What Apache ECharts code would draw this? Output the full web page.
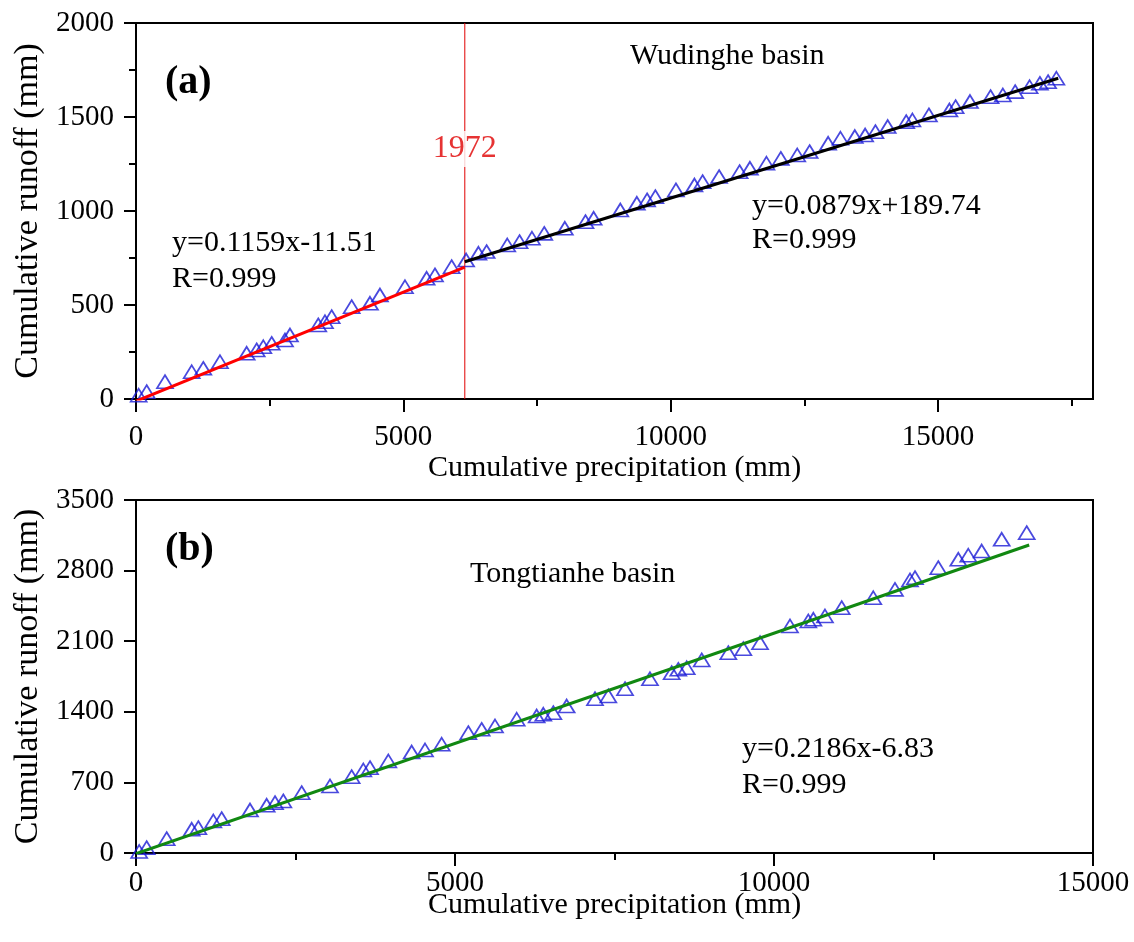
<!DOCTYPE html>
<html>
<head>
<meta charset="utf-8">
<script src="https://cdn.jsdelivr.net/npm/echarts@6/dist/echarts.min.js"></script>
<style>html,body{margin:0;padding:0;background:#fff;}#c{width:1134px;height:942px;}</style>
</head>
<body>
<div id="c"></div>
<script>
// ---------- Data ----------
const wudingheX = [50,200,542,1042,1259,1571,2070,2257,2381,2538,2787,2880,3409,3535,3660,4034,4376,4563,5031,5436,5592,5904,
  6175,6405,6558,6944,7174,7406,7636,8021,8407,8560,9059,9368,9560,9714,10099,10445,10598,10907,11290,11483,
  11792,12061,12368,12600,12946,13176,13445,13638,13830,14060,14406,14522,14831,15214,15330,15599,15984,16214,16444,16714,16907,17060,17215];
const wudingheY = [20,39,92,145,163,198,243,261,278,296,314,340,394,411,438,491,509,553,597,642,660,704,
  739,775,784,819,837,855,881,908,943,961,1005,1041,1059,1076,1112,1138,1156,1183,1209,1227,
  1254,1280,1298,1316,1360,1387,1396,1404,1422,1449,1475,1484,1511,1537,1555,1582,1608,1617,1635,1661,1679,1688,1706];
const tongX = [50,167,481,873,977,1212,1343,1787,2048,2179,2309,2597,3041,3380,3563,3668,3955,4321,4530,4791,5209,5418,5627,5967,6280,6384,6541,6750,7194,
  7403,7665,8056,8396,8500,8632,8867,9284,9519,9781,10251,10538,10617,10799,11061,11556,11896,12132,12210,12575,12889,13045,13255,13569,13961];
const tongY = [15,53,142,235,251,317,340,426,473,499,516,598,664,757,823,846,912,1001,1021,1078,1193,1226,1259,1326,1358,1375,1391,1457,1530,
  1557,1629,1728,1788,1821,1837,1914,1986,2026,2085,2251,2300,2317,2350,2432,2531,2614,2707,2730,2829,2912,2952,2994,3110,3176];

const breakYear = '1972';
const breakX = 6150;
const breakLabelY = 1330;
const fitA1 = [0.1159, -11.51];      // slope, intercept (before 1972)
const fitA2 = [0.0879, 189.74];      // after 1972
const fitB  = [0.2186, -6.83];
const fitA1Range = [0, 6150];
const fitA2Range = [6150, 17250];
const fitBRange = [0, 14000];

const topXMax = 17900, topYMax = 2000, botXMax = 15000, botYMax = 3500;
const topXMajor = [0, 5000, 10000, 15000];
const topXMinor = [2500, 7500, 12500, 17500];

const eqA1 = ['y=0.1159x-11.51', 'R=0.999'];
const eqA2 = ['y=0.0879x+189.74', 'R=0.999'];
const eqB  = ['y=0.2186x-6.83', 'R=0.999'];
const xName = 'Cumulative precipitation (mm)';
const yName = 'Cumulative runoff (mm)';

// ---------- Build ----------
const FONT = 'Liberation Serif';
const zip = (a, b) => a.map((v, i) => [v, b[i]]);
const fitLine = (f, r) => r.map(x => [x, f[0] * x + f[1]]);
const blue = '#1c1cd6';
const plain = v => String(v);

const chart = echarts.init(document.getElementById('c'), null, {renderer: 'canvas'});

const labelStyle = {color: '#000', fontFamily: FONT, fontSize: 29, formatter: plain};
const nameStyle = {color: '#000', fontFamily: FONT, fontSize: 30};
const yNameStyle = {color: '#000', fontFamily: FONT, fontSize: 34};
const axLine = {show: true, lineStyle: {color: '#000', width: 2}};

function yAxis(gridIndex, max, interval, minor) {
  return {
    type: 'value', gridIndex, min: 0, max, interval,
    name: yName, nameLocation: 'middle', nameGap: 88, nameTextStyle: yNameStyle,
    axisLine: axLine,
    axisTick: {show: true, inside: false, length: 12, lineStyle: {color: '#000', width: 2}},
    minorTick: {show: minor, splitNumber: 2, length: 7, lineStyle: {color: '#000', width: 2}},
    axisLabel: Object.assign({margin: 22}, labelStyle),
    splitLine: {show: false}, minorSplitLine: {show: false}
  };
}

const triStyle = {
  type: 'scatter', symbol: 'triangle', symbolSize: [16, 13],
  itemStyle: {color: 'rgba(0,0,0,0)', borderColor: blue, borderWidth: 1.7},
  z: 3, silent: true
};

const option = {
  backgroundColor: '#fff',
  animation: false,
  grid: [
    {left: 136, top: 23, width: 957, height: 376, show: true, borderColor: '#000', borderWidth: 2, backgroundColor: 'transparent'},
    {left: 136, top: 500, width: 957, height: 353, show: true, borderColor: '#000', borderWidth: 2, backgroundColor: 'transparent'}
  ],
  xAxis: [
    {
      type: 'value', gridIndex: 0, min: 0, max: topXMax,
      name: xName, nameLocation: 'middle', nameGap: 50, nameTextStyle: nameStyle,
      axisLine: axLine,
      axisTick: {show: true, inside: false, length: 13, customValues: topXMajor, lineStyle: {color: '#000', width: 2}},
      axisLabel: Object.assign({margin: 24, customValues: topXMajor}, labelStyle),
      splitLine: {show: false}
    },
    {
      type: 'value', gridIndex: 0, min: 0, max: topXMax, position: 'bottom',
      axisLine: {show: false},
      axisTick: {show: true, inside: false, length: 7, customValues: topXMinor, lineStyle: {color: '#000', width: 2}},
      axisLabel: {show: false},
      splitLine: {show: false}
    },
    {
      type: 'value', gridIndex: 1, min: 0, max: botXMax, interval: 5000,
      name: xName, nameLocation: 'middle', nameGap: 37, nameMoveOverlap: false, nameTextStyle: nameStyle,
      axisLine: axLine,
      axisTick: {show: true, inside: false, length: 13, lineStyle: {color: '#000', width: 2}},
      minorTick: {show: true, splitNumber: 2, length: 7, lineStyle: {color: '#000', width: 2}},
      axisLabel: Object.assign({margin: 16}, labelStyle),
      splitLine: {show: false}, minorSplitLine: {show: false}
    }
  ],
  yAxis: [yAxis(0, topYMax, 500, true), yAxis(1, botYMax, 700, false)],
  series: [
    Object.assign({xAxisIndex: 0, yAxisIndex: 0, data: zip(wudingheX, wudingheY)}, triStyle),
    {type: 'line', xAxisIndex: 0, yAxisIndex: 0, data: fitLine(fitA1, fitA1Range), showSymbol: false,
     lineStyle: {color: '#ff0000', width: 3}, z: 4, silent: true},
    {type: 'line', xAxisIndex: 0, yAxisIndex: 0, data: fitLine(fitA2, fitA2Range), showSymbol: false,
     lineStyle: {color: '#000', width: 3}, z: 4, silent: true},
    {type: 'line', xAxisIndex: 0, yAxisIndex: 0, data: [[breakX, 0], [breakX, topYMax]], showSymbol: false,
     lineStyle: {color: '#e00000', width: 1}, z: 2, silent: true},
    {type: 'scatter', xAxisIndex: 0, yAxisIndex: 0, data: [[breakX, breakLabelY]], symbolSize: 0, z: 5, silent: true,
     label: {show: true, position: 'inside', formatter: breakYear, color: '#e00000', fontFamily: FONT, fontSize: 32,
             backgroundColor: '#fff', padding: [2, 0, 2, 0]}},
    Object.assign({xAxisIndex: 2, yAxisIndex: 1, data: zip(tongX, tongY)}, triStyle),
    {type: 'line', xAxisIndex: 2, yAxisIndex: 1, data: fitLine(fitB, fitBRange), showSymbol: false,
     lineStyle: {color: '#118811', width: 3}, z: 4, silent: true}
  ],
  graphic: [
    {type: 'text', left: 165, top: 63, style: {text: '(a)', font: 'bold 40px "Liberation Serif"', fill: '#000'}},
    {type: 'text', left: 630, top: 41, style: {text: 'Wudinghe basin', font: '30px "Liberation Serif"', fill: '#000'}},
    {type: 'text', left: 172, top: 228, style: {text: eqA1[0], font: '30px "Liberation Serif"', fill: '#000'}},
    {type: 'text', left: 172, top: 264, style: {text: eqA1[1], font: '30px "Liberation Serif"', fill: '#000'}},
    {type: 'text', left: 752, top: 191, style: {text: eqA2[0], font: '30px "Liberation Serif"', fill: '#000'}},
    {type: 'text', left: 752, top: 225, style: {text: eqA2[1], font: '30px "Liberation Serif"', fill: '#000'}},
    {type: 'text', left: 165, top: 530, style: {text: '(b)', font: 'bold 40px "Liberation Serif"', fill: '#000'}},
    {type: 'text', left: 470, top: 559, style: {text: 'Tongtianhe basin', font: '30px "Liberation Serif"', fill: '#000'}},
    {type: 'text', left: 742, top: 734, style: {text: eqB[0], font: '30px "Liberation Serif"', fill: '#000'}},
    {type: 'text', left: 742, top: 770, style: {text: eqB[1], font: '30px "Liberation Serif"', fill: '#000'}}
  ]
};
chart.setOption(option);
</script>
</body>
</html>
